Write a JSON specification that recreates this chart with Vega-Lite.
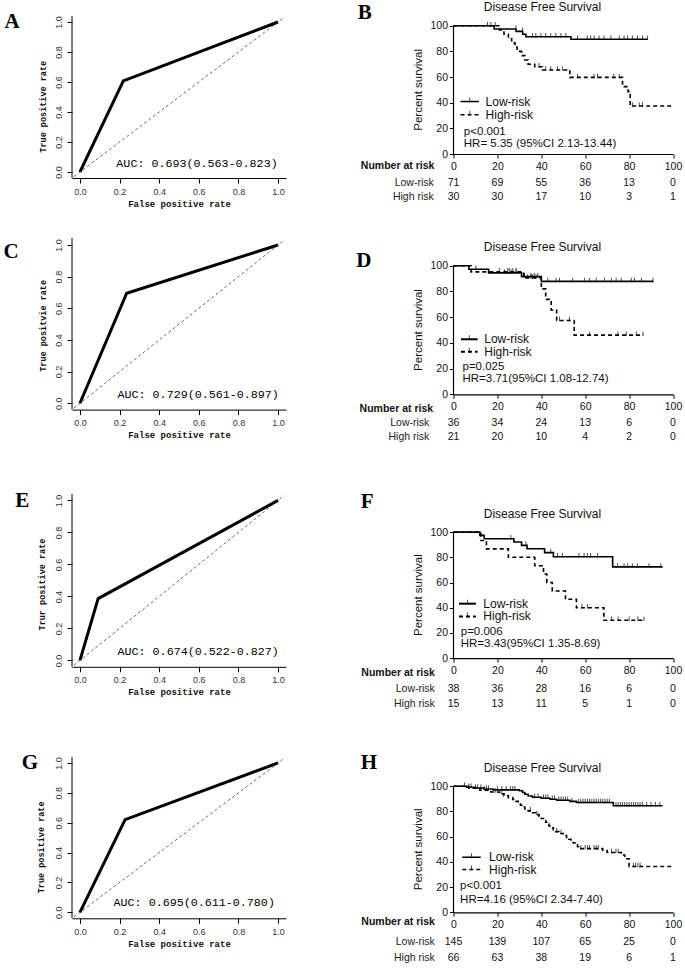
{
"$schema": "https://vega.github.io/schema/vega-lite/v6.json",
"background": "white",
"padding": {"left": 3, "top": 1, "right": 2, "bottom": 2},
"config": {"view": {"stroke": null}, "axis": {"grid": false, "labelOverlap": false}, "font": "Liberation Sans"},
"datasets": {
"roc": [
{"p":"A","fpr":0,"tpr":0},{"p":"A","fpr":0.219,"tpr":0.607},{"p":"A","fpr":1,"tpr":1},
{"p":"C","fpr":0,"tpr":0},{"p":"C","fpr":0.236,"tpr":0.695},{"p":"C","fpr":1,"tpr":1},
{"p":"E","fpr":0,"tpr":0},{"p":"E","fpr":0.092,"tpr":0.386},{"p":"E","fpr":1,"tpr":1},
{"p":"G","fpr":0,"tpr":0},{"p":"G","fpr":0.228,"tpr":0.62},{"p":"G","fpr":1,"tpr":1}
],
"km": [
{"p":"B","g":"Low-risk","t":0,"s":100},{"p":"B","g":"Low-risk","t":18.5,"s":97.4},{"p":"B","g":"Low-risk","t":28.5,"s":95.6},{"p":"B","g":"Low-risk","t":31.5,"s":93.3},{"p":"B","g":"Low-risk","t":33,"s":91.4},{"p":"B","g":"Low-risk","t":53.5,"s":89.4},{"p":"B","g":"Low-risk","t":88.4,"s":89.4},
{"p":"B","g":"High-risk","t":0,"s":100},{"p":"B","g":"High-risk","t":21,"s":96.7},{"p":"B","g":"High-risk","t":23,"s":93.3},{"p":"B","g":"High-risk","t":25,"s":90},{"p":"B","g":"High-risk","t":26.5,"s":86.7},{"p":"B","g":"High-risk","t":28,"s":83.3},{"p":"B","g":"High-risk","t":29,"s":80},{"p":"B","g":"High-risk","t":31,"s":76.7},{"p":"B","g":"High-risk","t":32.5,"s":73.3},{"p":"B","g":"High-risk","t":34,"s":70},{"p":"B","g":"High-risk","t":37,"s":68},{"p":"B","g":"High-risk","t":40.5,"s":65.5},{"p":"B","g":"High-risk","t":53,"s":59.7},{"p":"B","g":"High-risk","t":77,"s":52.5},{"p":"B","g":"High-risk","t":79.5,"s":48.6},{"p":"B","g":"High-risk","t":80.5,"s":37.4},{"p":"B","g":"High-risk","t":100,"s":37.4},
{"p":"D","g":"Low-risk","t":0,"s":100},{"p":"D","g":"Low-risk","t":7,"s":97.2},{"p":"D","g":"Low-risk","t":16,"s":94.4},{"p":"D","g":"Low-risk","t":31,"s":91.5},{"p":"D","g":"Low-risk","t":40,"s":87.8},{"p":"D","g":"Low-risk","t":91,"s":87.8},
{"p":"D","g":"High-risk","t":0,"s":100},{"p":"D","g":"High-risk","t":8,"s":95.2},{"p":"D","g":"High-risk","t":32,"s":90.5},{"p":"D","g":"High-risk","t":40,"s":82},{"p":"D","g":"High-risk","t":42,"s":73.8},{"p":"D","g":"High-risk","t":44.5,"s":65.6},{"p":"D","g":"High-risk","t":47,"s":57.4},{"p":"D","g":"High-risk","t":55,"s":46},{"p":"D","g":"High-risk","t":86.5,"s":46},
{"p":"F","g":"Low-risk","t":0,"s":100},{"p":"F","g":"Low-risk","t":12,"s":97.4},{"p":"F","g":"Low-risk","t":14,"s":94.7},{"p":"F","g":"Low-risk","t":27.5,"s":92.1},{"p":"F","g":"Low-risk","t":31,"s":89.5},{"p":"F","g":"Low-risk","t":33.5,"s":86.8},{"p":"F","g":"Low-risk","t":41.5,"s":83.7},{"p":"F","g":"Low-risk","t":45.5,"s":80.4},{"p":"F","g":"Low-risk","t":72.5,"s":72.4},{"p":"F","g":"Low-risk","t":95.3,"s":72.4},
{"p":"F","g":"High-risk","t":0,"s":100},{"p":"F","g":"High-risk","t":12.5,"s":93.3},{"p":"F","g":"High-risk","t":15,"s":86.7},{"p":"F","g":"High-risk","t":25,"s":80},{"p":"F","g":"High-risk","t":37,"s":73.3},{"p":"F","g":"High-risk","t":41,"s":66.7},{"p":"F","g":"High-risk","t":42.5,"s":60},{"p":"F","g":"High-risk","t":45,"s":53.3},{"p":"F","g":"High-risk","t":51,"s":46.7},{"p":"F","g":"High-risk","t":56,"s":40},{"p":"F","g":"High-risk","t":68.5,"s":30},{"p":"F","g":"High-risk","t":86.8,"s":30},
{"p":"H","g":"Low-risk","t":0,"s":100},{"p":"H","g":"Low-risk","t":6,"s":99.3},{"p":"H","g":"Low-risk","t":10,"s":98.6},{"p":"H","g":"Low-risk","t":14,"s":97.9},{"p":"H","g":"Low-risk","t":18,"s":97.2},{"p":"H","g":"Low-risk","t":30,"s":96.5},{"p":"H","g":"Low-risk","t":31.5,"s":95.1},{"p":"H","g":"Low-risk","t":32.5,"s":93.7},{"p":"H","g":"Low-risk","t":34,"s":92.3},{"p":"H","g":"Low-risk","t":36,"s":91.3},{"p":"H","g":"Low-risk","t":40,"s":90.5},{"p":"H","g":"Low-risk","t":44,"s":89.7},{"p":"H","g":"Low-risk","t":47,"s":88.9},{"p":"H","g":"Low-risk","t":53,"s":88},{"p":"H","g":"Low-risk","t":56,"s":87.2},{"p":"H","g":"Low-risk","t":72.8,"s":84.6},{"p":"H","g":"Low-risk","t":95.2,"s":84.6},
{"p":"H","g":"High-risk","t":0,"s":100},{"p":"H","g":"High-risk","t":7,"s":98.5},{"p":"H","g":"High-risk","t":12,"s":97},{"p":"H","g":"High-risk","t":17,"s":95.5},{"p":"H","g":"High-risk","t":21,"s":94},{"p":"H","g":"High-risk","t":23,"s":92.5},{"p":"H","g":"High-risk","t":25,"s":91},{"p":"H","g":"High-risk","t":27,"s":89.5},{"p":"H","g":"High-risk","t":28.5,"s":88},{"p":"H","g":"High-risk","t":29.5,"s":86.5},{"p":"H","g":"High-risk","t":30.5,"s":85},{"p":"H","g":"High-risk","t":31.5,"s":83.5},{"p":"H","g":"High-risk","t":32.5,"s":82},{"p":"H","g":"High-risk","t":34,"s":80.5},{"p":"H","g":"High-risk","t":36,"s":79},{"p":"H","g":"High-risk","t":37.5,"s":77.5},{"p":"H","g":"High-risk","t":39,"s":76},{"p":"H","g":"High-risk","t":40,"s":74.5},{"p":"H","g":"High-risk","t":41,"s":73},{"p":"H","g":"High-risk","t":42,"s":71.5},{"p":"H","g":"High-risk","t":42.5,"s":70},{"p":"H","g":"High-risk","t":43.5,"s":68.5},{"p":"H","g":"High-risk","t":44.5,"s":67},{"p":"H","g":"High-risk","t":45.5,"s":65.5},{"p":"H","g":"High-risk","t":46.5,"s":64},{"p":"H","g":"High-risk","t":48,"s":62.5},{"p":"H","g":"High-risk","t":50,"s":61},{"p":"H","g":"High-risk","t":51.5,"s":59.5},{"p":"H","g":"High-risk","t":52.5,"s":58},{"p":"H","g":"High-risk","t":53.5,"s":56.5},{"p":"H","g":"High-risk","t":54.5,"s":55},{"p":"H","g":"High-risk","t":55.5,"s":53.5},{"p":"H","g":"High-risk","t":56.5,"s":52},{"p":"H","g":"High-risk","t":57,"s":50.5},{"p":"H","g":"High-risk","t":68,"s":49},{"p":"H","g":"High-risk","t":70,"s":47.5},{"p":"H","g":"High-risk","t":76.5,"s":45.5},{"p":"H","g":"High-risk","t":78,"s":42.5},{"p":"H","g":"High-risk","t":80,"s":36.3},{"p":"H","g":"High-risk","t":100,"s":36.3}
],
"cens": [
{"p":"B","g":"Low-risk","t":15.5,"s":100},{"p":"B","g":"Low-risk","t":17,"s":100},{"p":"B","g":"Low-risk","t":28.4,"s":97.4},{"p":"B","g":"Low-risk","t":31.4,"s":95.6},{"p":"B","g":"Low-risk","t":36,"s":91.4},{"p":"B","g":"Low-risk","t":37.5,"s":91.4},{"p":"B","g":"Low-risk","t":39.8,"s":91.4},{"p":"B","g":"Low-risk","t":42,"s":91.4},{"p":"B","g":"Low-risk","t":44.3,"s":91.4},{"p":"B","g":"Low-risk","t":46.6,"s":91.4},{"p":"B","g":"Low-risk","t":48.9,"s":91.4},{"p":"B","g":"Low-risk","t":51.2,"s":91.4},{"p":"B","g":"Low-risk","t":56.5,"s":89.4},{"p":"B","g":"Low-risk","t":61,"s":89.4},{"p":"B","g":"Low-risk","t":62.5,"s":89.4},{"p":"B","g":"Low-risk","t":64.1,"s":89.4},{"p":"B","g":"Low-risk","t":66.3,"s":89.4},{"p":"B","g":"Low-risk","t":68.6,"s":89.4},{"p":"B","g":"Low-risk","t":71.7,"s":89.4},{"p":"B","g":"Low-risk","t":75.5,"s":89.4},{"p":"B","g":"Low-risk","t":77.7,"s":89.4},{"p":"B","g":"Low-risk","t":79.3,"s":89.4},{"p":"B","g":"Low-risk","t":81.5,"s":89.4},{"p":"B","g":"Low-risk","t":83.8,"s":89.4},{"p":"B","g":"Low-risk","t":86.1,"s":89.4},{"p":"B","g":"Low-risk","t":88.4,"s":89.4},
{"p":"B","g":"High-risk","t":19,"s":100},{"p":"B","g":"High-risk","t":39,"s":68},{"p":"B","g":"High-risk","t":42,"s":65.5},{"p":"B","g":"High-risk","t":44.3,"s":65.5},{"p":"B","g":"High-risk","t":47.4,"s":65.5},{"p":"B","g":"High-risk","t":49.6,"s":65.5},{"p":"B","g":"High-risk","t":56.5,"s":59.7},{"p":"B","g":"High-risk","t":64,"s":59.7},{"p":"B","g":"High-risk","t":65.6,"s":59.7},{"p":"B","g":"High-risk","t":73,"s":59.7},{"p":"B","g":"High-risk","t":75.5,"s":59.7},{"p":"B","g":"High-risk","t":81.5,"s":37.4},{"p":"B","g":"High-risk","t":84.6,"s":37.4},{"p":"B","g":"High-risk","t":86.1,"s":37.4},
{"p":"D","g":"Low-risk","t":10.2,"s":97.2},{"p":"D","g":"Low-risk","t":23.2,"s":94.4},{"p":"D","g":"Low-risk","t":26.2,"s":94.4},{"p":"D","g":"Low-risk","t":28.5,"s":94.4},{"p":"D","g":"Low-risk","t":32.3,"s":91.5},{"p":"D","g":"Low-risk","t":35.3,"s":91.5},{"p":"D","g":"Low-risk","t":36.8,"s":91.5},{"p":"D","g":"Low-risk","t":38.4,"s":91.5},{"p":"D","g":"Low-risk","t":42.9,"s":87.8},{"p":"D","g":"Low-risk","t":46.7,"s":87.8},{"p":"D","g":"Low-risk","t":48.3,"s":87.8},{"p":"D","g":"Low-risk","t":54.3,"s":87.8},{"p":"D","g":"Low-risk","t":59.7,"s":87.8},{"p":"D","g":"Low-risk","t":62,"s":87.8},{"p":"D","g":"Low-risk","t":65,"s":87.8},{"p":"D","g":"Low-risk","t":68.8,"s":87.8},{"p":"D","g":"Low-risk","t":71.9,"s":87.8},{"p":"D","g":"Low-risk","t":74.1,"s":87.8},{"p":"D","g":"Low-risk","t":76.4,"s":87.8},{"p":"D","g":"Low-risk","t":81,"s":87.8},{"p":"D","g":"Low-risk","t":82.5,"s":87.8},{"p":"D","g":"Low-risk","t":85.6,"s":87.8},{"p":"D","g":"Low-risk","t":90.9,"s":87.8},
{"p":"D","g":"High-risk","t":20.9,"s":95.2},{"p":"D","g":"High-risk","t":24.7,"s":95.2},{"p":"D","g":"High-risk","t":25.4,"s":95.2},{"p":"D","g":"High-risk","t":27,"s":95.2},{"p":"D","g":"High-risk","t":28.5,"s":95.2},{"p":"D","g":"High-risk","t":33.8,"s":90.5},{"p":"D","g":"High-risk","t":35.3,"s":90.5},{"p":"D","g":"High-risk","t":36,"s":90.5},{"p":"D","g":"High-risk","t":37.6,"s":90.5},{"p":"D","g":"High-risk","t":48.3,"s":57.4},{"p":"D","g":"High-risk","t":52.8,"s":57.4},{"p":"D","g":"High-risk","t":62,"s":46},{"p":"D","g":"High-risk","t":74.9,"s":46},{"p":"D","g":"High-risk","t":78.7,"s":46},{"p":"D","g":"High-risk","t":83.3,"s":46},{"p":"D","g":"High-risk","t":86.3,"s":46},
{"p":"F","g":"Low-risk","t":26.1,"s":94.7},{"p":"F","g":"Low-risk","t":33,"s":89.5},{"p":"F","g":"Low-risk","t":44.3,"s":83.7},{"p":"F","g":"Low-risk","t":47.4,"s":80.4},{"p":"F","g":"Low-risk","t":49.6,"s":80.4},{"p":"F","g":"Low-risk","t":57.2,"s":80.4},{"p":"F","g":"Low-risk","t":59.5,"s":80.4},{"p":"F","g":"Low-risk","t":61,"s":80.4},{"p":"F","g":"Low-risk","t":62.5,"s":80.4},{"p":"F","g":"Low-risk","t":65.6,"s":80.4},{"p":"F","g":"Low-risk","t":74.7,"s":72.4},{"p":"F","g":"Low-risk","t":77.7,"s":72.4},{"p":"F","g":"Low-risk","t":79.3,"s":72.4},{"p":"F","g":"Low-risk","t":81.5,"s":72.4},{"p":"F","g":"Low-risk","t":83.8,"s":72.4},{"p":"F","g":"Low-risk","t":89.1,"s":72.4},{"p":"F","g":"Low-risk","t":94.4,"s":72.4},
{"p":"F","g":"High-risk","t":58.5,"s":40},{"p":"F","g":"High-risk","t":61,"s":40},{"p":"F","g":"High-risk","t":72,"s":30},{"p":"F","g":"High-risk","t":75,"s":30},{"p":"F","g":"High-risk","t":80,"s":30},{"p":"F","g":"High-risk","t":84,"s":30},{"p":"F","g":"High-risk","t":86.8,"s":30},
{"p":"H","g":"Low-risk","t":7,"s":99.3},{"p":"H","g":"Low-risk","t":8,"s":99.3},{"p":"H","g":"Low-risk","t":11,"s":98.6},{"p":"H","g":"Low-risk","t":12.5,"s":98.6},{"p":"H","g":"Low-risk","t":15,"s":97.9},{"p":"H","g":"Low-risk","t":16,"s":97.9},{"p":"H","g":"Low-risk","t":20,"s":97.2},{"p":"H","g":"Low-risk","t":22,"s":97.2},{"p":"H","g":"Low-risk","t":24,"s":97.2},{"p":"H","g":"Low-risk","t":26,"s":97.2},{"p":"H","g":"Low-risk","t":27,"s":97.2},{"p":"H","g":"Low-risk","t":28,"s":97.2},{"p":"H","g":"Low-risk","t":37,"s":91.3},{"p":"H","g":"Low-risk","t":38.5,"s":91.3},{"p":"H","g":"Low-risk","t":41,"s":90.5},{"p":"H","g":"Low-risk","t":42,"s":90.5},{"p":"H","g":"Low-risk","t":43,"s":90.5},{"p":"H","g":"Low-risk","t":45,"s":89.7},{"p":"H","g":"Low-risk","t":46,"s":89.7},{"p":"H","g":"Low-risk","t":48,"s":88.9},{"p":"H","g":"Low-risk","t":49,"s":88.9},{"p":"H","g":"Low-risk","t":50,"s":88.9},{"p":"H","g":"Low-risk","t":51,"s":88.9},{"p":"H","g":"Low-risk","t":52,"s":88.9},{"p":"H","g":"Low-risk","t":54,"s":88},{"p":"H","g":"Low-risk","t":57,"s":87.2},{"p":"H","g":"Low-risk","t":58,"s":87.2},{"p":"H","g":"Low-risk","t":59,"s":87.2},{"p":"H","g":"Low-risk","t":60,"s":87.2},{"p":"H","g":"Low-risk","t":61,"s":87.2},{"p":"H","g":"Low-risk","t":62,"s":87.2},{"p":"H","g":"Low-risk","t":63,"s":87.2},{"p":"H","g":"Low-risk","t":64,"s":87.2},{"p":"H","g":"Low-risk","t":65,"s":87.2},{"p":"H","g":"Low-risk","t":66,"s":87.2},{"p":"H","g":"Low-risk","t":67,"s":87.2},{"p":"H","g":"Low-risk","t":68,"s":87.2},{"p":"H","g":"Low-risk","t":69,"s":87.2},{"p":"H","g":"Low-risk","t":70,"s":87.2},{"p":"H","g":"Low-risk","t":71,"s":87.2},{"p":"H","g":"Low-risk","t":74,"s":84.6},{"p":"H","g":"Low-risk","t":75,"s":84.6},{"p":"H","g":"Low-risk","t":76,"s":84.6},{"p":"H","g":"Low-risk","t":77,"s":84.6},{"p":"H","g":"Low-risk","t":78,"s":84.6},{"p":"H","g":"Low-risk","t":79,"s":84.6},{"p":"H","g":"Low-risk","t":80,"s":84.6},{"p":"H","g":"Low-risk","t":81,"s":84.6},{"p":"H","g":"Low-risk","t":82,"s":84.6},{"p":"H","g":"Low-risk","t":83,"s":84.6},{"p":"H","g":"Low-risk","t":84,"s":84.6},{"p":"H","g":"Low-risk","t":85,"s":84.6},{"p":"H","g":"Low-risk","t":86,"s":84.6},{"p":"H","g":"Low-risk","t":88,"s":84.6},{"p":"H","g":"Low-risk","t":90,"s":84.6},{"p":"H","g":"Low-risk","t":92,"s":84.6},{"p":"H","g":"Low-risk","t":94,"s":84.6},
{"p":"H","g":"High-risk","t":5,"s":100},{"p":"H","g":"High-risk","t":10,"s":98.5},{"p":"H","g":"High-risk","t":14,"s":97},{"p":"H","g":"High-risk","t":19,"s":95.5},{"p":"H","g":"High-risk","t":22,"s":94},{"p":"H","g":"High-risk","t":35,"s":80.5},{"p":"H","g":"High-risk","t":38,"s":77.5},{"p":"H","g":"High-risk","t":47,"s":64},{"p":"H","g":"High-risk","t":49,"s":62.5},{"p":"H","g":"High-risk","t":58,"s":50.5},{"p":"H","g":"High-risk","t":60,"s":50.5},{"p":"H","g":"High-risk","t":61,"s":50.5},{"p":"H","g":"High-risk","t":62,"s":50.5},{"p":"H","g":"High-risk","t":64,"s":50.5},{"p":"H","g":"High-risk","t":65,"s":50.5},{"p":"H","g":"High-risk","t":66,"s":50.5},{"p":"H","g":"High-risk","t":72,"s":47.5},{"p":"H","g":"High-risk","t":74,"s":47.5},{"p":"H","g":"High-risk","t":75,"s":47.5},{"p":"H","g":"High-risk","t":82,"s":36.3},{"p":"H","g":"High-risk","t":83,"s":36.3},{"p":"H","g":"High-risk","t":84,"s":36.3},{"p":"H","g":"High-risk","t":85,"s":36.3}
],
"risk": [
{"p":"B","g":"Low-risk","t":0,"n":71},{"p":"B","g":"Low-risk","t":20,"n":69},{"p":"B","g":"Low-risk","t":40,"n":55},{"p":"B","g":"Low-risk","t":60,"n":36},{"p":"B","g":"Low-risk","t":80,"n":13},{"p":"B","g":"Low-risk","t":100,"n":0},
{"p":"B","g":"High-risk","t":0,"n":30},{"p":"B","g":"High-risk","t":20,"n":30},{"p":"B","g":"High-risk","t":40,"n":17},{"p":"B","g":"High-risk","t":60,"n":10},{"p":"B","g":"High-risk","t":80,"n":3},{"p":"B","g":"High-risk","t":100,"n":1},
{"p":"D","g":"Low-risk","t":0,"n":36},{"p":"D","g":"Low-risk","t":20,"n":34},{"p":"D","g":"Low-risk","t":40,"n":24},{"p":"D","g":"Low-risk","t":60,"n":13},{"p":"D","g":"Low-risk","t":80,"n":6},{"p":"D","g":"Low-risk","t":100,"n":0},
{"p":"D","g":"High-risk","t":0,"n":21},{"p":"D","g":"High-risk","t":20,"n":20},{"p":"D","g":"High-risk","t":40,"n":10},{"p":"D","g":"High-risk","t":60,"n":4},{"p":"D","g":"High-risk","t":80,"n":2},{"p":"D","g":"High-risk","t":100,"n":0},
{"p":"F","g":"Low-risk","t":0,"n":38},{"p":"F","g":"Low-risk","t":20,"n":36},{"p":"F","g":"Low-risk","t":40,"n":28},{"p":"F","g":"Low-risk","t":60,"n":16},{"p":"F","g":"Low-risk","t":80,"n":6},{"p":"F","g":"Low-risk","t":100,"n":0},
{"p":"F","g":"High-risk","t":0,"n":15},{"p":"F","g":"High-risk","t":20,"n":13},{"p":"F","g":"High-risk","t":40,"n":11},{"p":"F","g":"High-risk","t":60,"n":5},{"p":"F","g":"High-risk","t":80,"n":1},{"p":"F","g":"High-risk","t":100,"n":0},
{"p":"H","g":"Low-risk","t":0,"n":145},{"p":"H","g":"Low-risk","t":20,"n":139},{"p":"H","g":"Low-risk","t":40,"n":107},{"p":"H","g":"Low-risk","t":60,"n":65},{"p":"H","g":"Low-risk","t":80,"n":25},{"p":"H","g":"Low-risk","t":100,"n":0},
{"p":"H","g":"High-risk","t":0,"n":66},{"p":"H","g":"High-risk","t":20,"n":63},{"p":"H","g":"High-risk","t":40,"n":38},{"p":"H","g":"High-risk","t":60,"n":19},{"p":"H","g":"High-risk","t":80,"n":6},{"p":"H","g":"High-risk","t":100,"n":1}
]
},
"columns": 2,
"spacing": {"row": 60, "column": 167.5},
"bounds": "flush",
"align": "each",
"concat": [
{"width": 214, "height": 162, "layer": [
 {"data": {"name": "roc"}, "transform": [{"filter": "datum.p === 'A'"}], "mark": {"type": "line", "color": "#000", "strokeWidth": 3},
  "encoding": {"x": {"field": "fpr", "type": "quantitative", "scale": {"domain": [-0.04, 1.04], "nice": false, "zero": false}, "axis": {"values": [0, 0.2, 0.4, 0.6, 0.8, 1], "tickCount": 20, "format": ".1f", "title": "False positive rate", "titleFont": "Liberation Mono", "titleFontWeight": "bold", "titleFontSize": 9, "titleColor": "#111", "titlePadding": 3, "labelFont": "Liberation Sans", "labelFontSize": 9, "labelColor": "#333", "labelPadding": 4, "tickSize": 5, "labelFlush": false, "labelOverlap": false, "domainColor": "#000", "tickColor": "#000"}},
   "y": {"field": "tpr", "type": "quantitative", "scale": {"domain": [-0.04, 1.04], "nice": false, "zero": false}, "axis": {"values": [0, 0.2, 0.4, 0.6, 0.8, 1], "tickCount": 20, "format": ".1f", "domain": false, "title": null, "labelAngle": -90, "labelAlign": "center", "labelBaseline": "bottom", "labelFont": "Liberation Sans", "labelFontSize": 9, "labelColor": "#333", "labelPadding": 4, "tickSize": 5, "tickColor": "#000", "labelOverlap": false, "labelFlush": false}}}},
 {"data": {"values": [{}]}, "mark": {"type": "rule", "color": "#444", "strokeWidth": 0.8, "strokeDash": [3, 2.5]}, "encoding": {"x": {"datum": -0.03}, "y": {"datum": -0.03}, "x2": {"datum": 1.03}, "y2": {"datum": 1.03}}},
 {"data": {"values": [{}]}, "mark": {"type": "rule", "color": "#000", "strokeWidth": 1}, "encoding": {"x": {"datum": -0.04}, "y": {"datum": -0.04}, "y2": {"datum": 1.04}}},
 {"data": {"values": [{}]}, "mark": {"type": "text", "text": "AUC: 0.693(0.563-0.823)", "font": "Liberation Mono", "fontSize": 11.7, "align": "right", "baseline": "middle", "color": "#000"}, "encoding": {"x": {"datum": 0.998}, "y": {"datum": 0.06}}},
 {"data": {"values": [{}]}, "mark": {"type": "text", "text": "True positive rate", "font": "Liberation Mono", "fontWeight": "bold", "fontSize": 8.5, "angle": 270, "align": "center", "baseline": "middle", "color": "#111"}, "encoding": {"x": {"datum": -0.184}, "y": {"datum": 0.435}}},
 {"data": {"values": [{}]}, "mark": {"type": "text", "text": "A", "font": "Liberation Serif", "fontWeight": "bold", "fontSize": 21, "align": "left", "baseline": "alphabetic", "color": "#000"}, "encoding": {"x": {"datum": -0.381}, "y": {"datum": 0.96}}}
]},
{"width": 219.5, "height": 138, "layer": [
 {"data": {"name": "km"}, "transform": [{"filter": "datum.p === 'B'"}], "mark": {"type": "line", "interpolate": "step-after", "color": "#000", "strokeWidth": 1.6},
  "encoding": {"x": {"field": "t", "type": "quantitative", "scale": {"domain": [0, 100], "nice": false, "zero": false}, "axis": {"values": [0, 20, 40, 60, 80, 100], "tickCount": 20, "title": null, "tickSize": 4, "labelPadding": 3, "labelFontSize": 10.5, "labelFont": "Liberation Sans", "labelColor": "#111", "labelFlush": false, "labelOverlap": false, "domainColor": "#000", "tickColor": "#000", "domainWidth": 1.2}},
   "y": {"field": "s", "type": "quantitative", "scale": {"domain": [0, 107.56], "nice": false, "zero": false}, "axis": {"values": [0, 20, 40, 60, 80, 100], "tickCount": 20, "domain": false, "title": null, "tickSize": 4, "labelPadding": 2, "labelFontSize": 10.5, "labelFont": "Liberation Sans", "labelColor": "#111", "tickColor": "#000", "labelOverlap": false, "labelFlush": false}},
   "detail": {"field": "g"},
   "strokeDash": {"field": "g", "type": "nominal", "scale": {"domain": ["Low-risk", "High-risk"], "range": [[1, 0], [4, 3]]}, "legend": null}}},
 {"data": {"name": "cens"}, "transform": [{"filter": "datum.p === 'B'"}], "mark": {"type": "tick", "orient": "vertical", "size": 4.5, "thickness": 1, "color": "#000", "yOffset": -1.5}, "encoding": {"x": {"field": "t", "type": "quantitative"}, "y": {"field": "s", "type": "quantitative"}}},
 {"data": {"values": [{}]}, "mark": {"type": "rule", "color": "#000", "strokeWidth": 1.2}, "encoding": {"x": {"datum": 0}, "y": {"datum": 0}, "y2": {"datum": 100}}},
 {"data": {"values": [{}]}, "mark": {"type": "text", "text": "Percent survival", "fontSize": 11.5, "angle": 270, "align": "center", "baseline": "middle", "color": "#111"}, "encoding": {"x": {"datum": -15.6}, "y": {"datum": 50}}},
 {"data": {"values": [{}]}, "mark": {"type": "text", "text": "Disease Free Survival", "fontSize": 12, "align": "center", "baseline": "middle", "color": "#111"}, "encoding": {"x": {"datum": 40.5}, "y": {"datum": 114.4}}},
 {"data": {"values": [{}]}, "mark": {"type": "text", "text": "B", "font": "Liberation Serif", "fontWeight": "bold", "fontSize": 21, "align": "left", "baseline": "alphabetic", "color": "#000"}, "encoding": {"x": {"datum": -43.6}, "y": {"datum": 105.2}}},
 {"data": {"values": [{}]}, "mark": {"type": "rule", "color": "#000", "strokeWidth": 1.5}, "encoding": {"x": {"datum": 3.2}, "x2": {"datum": 11.6}, "y": {"datum": 40.9}}},
 {"data": {"values": [{}]}, "mark": {"type": "rule", "color": "#000", "strokeWidth": 1.5, "strokeDash": [4, 3]}, "encoding": {"x": {"datum": 3.2}, "x2": {"datum": 11.6}, "y": {"datum": 30.5}}},
 {"data": {"values": [{}]}, "mark": {"type": "tick", "orient": "vertical", "size": 5, "thickness": 1, "color": "#000", "yOffset": -1.5}, "encoding": {"x": {"datum": 7.4}, "y": {"datum": 40.9}}},
 {"data": {"values": [{}]}, "mark": {"type": "tick", "orient": "vertical", "size": 5, "thickness": 1, "color": "#000", "yOffset": -1.5}, "encoding": {"x": {"datum": 7.4}, "y": {"datum": 30.5}}},
 {"data": {"values": [{}]}, "mark": {"type": "text", "text": "Low-risk", "fontSize": 12, "align": "left", "baseline": "middle", "color": "#111"}, "encoding": {"x": {"datum": 14.6}, "y": {"datum": 40.9}}},
 {"data": {"values": [{}]}, "mark": {"type": "text", "text": "High-risk", "fontSize": 12, "align": "left", "baseline": "middle", "color": "#111"}, "encoding": {"x": {"datum": 14.6}, "y": {"datum": 30.5}}},
 {"data": {"values": [{}]}, "mark": {"type": "text", "text": "p<0.001", "fontSize": 11.5, "align": "left", "baseline": "middle", "color": "#111"}, "encoding": {"x": {"datum": 4.7}, "y": {"datum": 17.4}}},
 {"data": {"values": [{}]}, "mark": {"type": "text", "text": "HR= 5.35 (95%CI 2.13-13.44)", "fontSize": 11.5, "align": "left", "baseline": "middle", "color": "#111"}, "encoding": {"x": {"datum": 4.7}, "y": {"datum": 7.6}}},
 {"data": {"values": [{}]}, "mark": {"type": "text", "text": "Number at risk", "fontSize": 10.5, "fontWeight": "bold", "align": "right", "baseline": "middle", "color": "#111"}, "encoding": {"x": {"datum": -8.7}, "y": {"datum": -9.4}}},
 {"data": {"values": [{}]}, "mark": {"type": "text", "text": "Low-risk", "fontSize": 10.5, "align": "right", "baseline": "middle", "color": "#222"}, "encoding": {"x": {"datum": -9}, "y": {"datum": -22.7}}},
 {"data": {"values": [{}]}, "mark": {"type": "text", "text": "High risk", "fontSize": 10.5, "align": "right", "baseline": "middle", "color": "#222"}, "encoding": {"x": {"datum": -9}, "y": {"datum": -33.8}}},
 {"data": {"name": "risk"}, "transform": [{"filter": "datum.p === 'B' && datum.g === 'Low-risk'"}], "mark": {"type": "text", "fontSize": 10.5, "align": "center", "baseline": "middle", "color": "#111"}, "encoding": {"x": {"field": "t", "type": "quantitative"}, "y": {"datum": -22.7}, "text": {"field": "n"}}},
 {"data": {"name": "risk"}, "transform": [{"filter": "datum.p === 'B' && datum.g === 'High-risk'"}], "mark": {"type": "text", "fontSize": 10.5, "align": "center", "baseline": "middle", "color": "#111"}, "encoding": {"x": {"field": "t", "type": "quantitative"}, "y": {"datum": -33.8}, "text": {"field": "n"}}}
]},
{"width": 214, "height": 171.6, "layer": [
 {"data": {"name": "roc"}, "transform": [{"filter": "datum.p === 'C'"}], "mark": {"type": "line", "color": "#000", "strokeWidth": 3},
  "encoding": {"x": {"field": "fpr", "type": "quantitative", "scale": {"domain": [-0.04, 1.04], "nice": false, "zero": false}, "axis": {"values": [0, 0.2, 0.4, 0.6, 0.8, 1], "tickCount": 20, "format": ".1f", "title": "False positive rate", "titleFont": "Liberation Mono", "titleFontWeight": "bold", "titleFontSize": 9, "titleColor": "#111", "titlePadding": 3, "labelFont": "Liberation Sans", "labelFontSize": 9, "labelColor": "#333", "labelPadding": 4, "tickSize": 5, "labelFlush": false, "labelOverlap": false, "domainColor": "#000", "tickColor": "#000"}},
   "y": {"field": "tpr", "type": "quantitative", "scale": {"domain": [-0.04, 1.044], "nice": false, "zero": false}, "axis": {"values": [0, 0.2, 0.4, 0.6, 0.8, 1], "tickCount": 20, "format": ".1f", "domain": false, "title": null, "labelAngle": -90, "labelAlign": "center", "labelBaseline": "bottom", "labelFont": "Liberation Sans", "labelFontSize": 9, "labelColor": "#333", "labelPadding": 4, "tickSize": 5, "tickColor": "#000", "labelOverlap": false, "labelFlush": false}}}},
 {"data": {"values": [{}]}, "mark": {"type": "rule", "color": "#444", "strokeWidth": 0.8, "strokeDash": [3, 2.5]}, "encoding": {"x": {"datum": -0.03}, "y": {"datum": -0.03}, "x2": {"datum": 1.03}, "y2": {"datum": 1.03}}},
 {"data": {"values": [{}]}, "mark": {"type": "rule", "color": "#000", "strokeWidth": 1}, "encoding": {"x": {"datum": -0.04}, "y": {"datum": -0.04}, "y2": {"datum": 1.044}}},
 {"data": {"values": [{}]}, "mark": {"type": "text", "text": "AUC: 0.729(0.561-0.897)", "font": "Liberation Mono", "fontSize": 11.7, "align": "right", "baseline": "middle", "color": "#000"}, "encoding": {"x": {"datum": 1.004}, "y": {"datum": 0.059}}},
 {"data": {"values": [{}]}, "mark": {"type": "text", "text": "True positvie rate", "font": "Liberation Mono", "fontWeight": "bold", "fontSize": 8.5, "angle": 270, "align": "center", "baseline": "middle", "color": "#111"}, "encoding": {"x": {"datum": -0.185}, "y": {"datum": 0.489}}},
 {"data": {"values": [{}]}, "mark": {"type": "text", "text": "C", "font": "Liberation Serif", "fontWeight": "bold", "fontSize": 21, "align": "left", "baseline": "alphabetic", "color": "#000"}, "encoding": {"x": {"datum": -0.386}, "y": {"datum": 0.918}}}
]},
{"width": 219.5, "height": 156.3, "layer": [
 {"data": {"name": "km"}, "transform": [{"filter": "datum.p === 'D'"}], "mark": {"type": "line", "interpolate": "step-after", "color": "#000", "strokeWidth": 1.6},
  "encoding": {"x": {"field": "t", "type": "quantitative", "scale": {"domain": [0, 100], "nice": false, "zero": false}, "axis": {"values": [0, 20, 40, 60, 80, 100], "tickCount": 20, "title": null, "tickSize": 4, "labelPadding": 3, "labelFontSize": 10.5, "labelFont": "Liberation Sans", "labelColor": "#111", "labelFlush": false, "labelOverlap": false, "domainColor": "#000", "tickColor": "#000", "domainWidth": 1.2}},
   "y": {"field": "s", "type": "quantitative", "scale": {"domain": [0, 121.54], "nice": false, "zero": false}, "axis": {"values": [0, 20, 40, 60, 80, 100], "tickCount": 20, "domain": false, "title": null, "tickSize": 4, "labelPadding": 2, "labelFontSize": 10.5, "labelFont": "Liberation Sans", "labelColor": "#111", "tickColor": "#000", "labelOverlap": false, "labelFlush": false}},
   "detail": {"field": "g"},
   "strokeDash": {"field": "g", "type": "nominal", "scale": {"domain": ["Low-risk", "High-risk"], "range": [[1, 0], [4, 3]]}, "legend": null}}},
 {"data": {"name": "cens"}, "transform": [{"filter": "datum.p === 'D'"}], "mark": {"type": "tick", "orient": "vertical", "size": 4.5, "thickness": 1, "color": "#000", "yOffset": -1.5}, "encoding": {"x": {"field": "t", "type": "quantitative"}, "y": {"field": "s", "type": "quantitative"}}},
 {"data": {"values": [{}]}, "mark": {"type": "rule", "color": "#000", "strokeWidth": 1.2}, "encoding": {"x": {"datum": 0}, "y": {"datum": 0}, "y2": {"datum": 100}}},
 {"data": {"values": [{}]}, "mark": {"type": "text", "text": "Percent survival", "fontSize": 11.5, "angle": 270, "align": "center", "baseline": "middle", "color": "#111"}, "encoding": {"x": {"datum": -15.6}, "y": {"datum": 50}}},
 {"data": {"values": [{}]}, "mark": {"type": "text", "text": "Disease Free Survival", "fontSize": 12, "align": "center", "baseline": "middle", "color": "#111"}, "encoding": {"x": {"datum": 40.5}, "y": {"datum": 114.4}}},
 {"data": {"values": [{}]}, "mark": {"type": "text", "text": "D", "font": "Liberation Serif", "fontWeight": "bold", "fontSize": 21, "align": "left", "baseline": "alphabetic", "color": "#000"}, "encoding": {"x": {"datum": -44.3}, "y": {"datum": 99}}},
 {"data": {"values": [{}]}, "mark": {"type": "rule", "color": "#000", "strokeWidth": 2}, "encoding": {"x": {"datum": 3.4}, "x2": {"datum": 11}, "y": {"datum": 42.8}}},
 {"data": {"values": [{}]}, "mark": {"type": "rule", "color": "#000", "strokeWidth": 2, "strokeDash": [4, 3]}, "encoding": {"x": {"datum": 3.4}, "x2": {"datum": 11}, "y": {"datum": 33.1}}},
 {"data": {"values": [{}]}, "mark": {"type": "tick", "orient": "vertical", "size": 5, "thickness": 1, "color": "#000", "yOffset": -1.5}, "encoding": {"x": {"datum": 7.2}, "y": {"datum": 42.8}}},
 {"data": {"values": [{}]}, "mark": {"type": "tick", "orient": "vertical", "size": 5, "thickness": 1, "color": "#000", "yOffset": -1.5}, "encoding": {"x": {"datum": 7.2}, "y": {"datum": 33.1}}},
 {"data": {"values": [{}]}, "mark": {"type": "text", "text": "Low-risk", "fontSize": 12, "align": "left", "baseline": "middle", "color": "#111"}, "encoding": {"x": {"datum": 14}, "y": {"datum": 42.8}}},
 {"data": {"values": [{}]}, "mark": {"type": "text", "text": "High-risk", "fontSize": 12, "align": "left", "baseline": "middle", "color": "#111"}, "encoding": {"x": {"datum": 14}, "y": {"datum": 33.1}}},
 {"data": {"values": [{}]}, "mark": {"type": "text", "text": "p=0.025", "fontSize": 11.5, "align": "left", "baseline": "middle", "color": "#111"}, "encoding": {"x": {"datum": 4.1}, "y": {"datum": 21.6}}},
 {"data": {"values": [{}]}, "mark": {"type": "text", "text": "HR=3.71(95%CI 1.08-12.74)", "fontSize": 11.5, "align": "left", "baseline": "middle", "color": "#111"}, "encoding": {"x": {"datum": 4.1}, "y": {"datum": 12.2}}},
 {"data": {"values": [{}]}, "mark": {"type": "text", "text": "Number at risk", "fontSize": 10.5, "fontWeight": "bold", "align": "right", "baseline": "middle", "color": "#111"}, "encoding": {"x": {"datum": -9.3}, "y": {"datum": -11.7}}},
 {"data": {"values": [{}]}, "mark": {"type": "text", "text": "Low-risk", "fontSize": 10.5, "align": "right", "baseline": "middle", "color": "#222"}, "encoding": {"x": {"datum": -11}, "y": {"datum": -22.3}}},
 {"data": {"values": [{}]}, "mark": {"type": "text", "text": "High risk", "fontSize": 10.5, "align": "right", "baseline": "middle", "color": "#222"}, "encoding": {"x": {"datum": -11}, "y": {"datum": -33.4}}},
 {"data": {"name": "risk"}, "transform": [{"filter": "datum.p === 'D' && datum.g === 'Low-risk'"}], "mark": {"type": "text", "fontSize": 10.5, "align": "center", "baseline": "middle", "color": "#111"}, "encoding": {"x": {"field": "t", "type": "quantitative"}, "y": {"datum": -22.3}, "text": {"field": "n"}}},
 {"data": {"name": "risk"}, "transform": [{"filter": "datum.p === 'D' && datum.g === 'High-risk'"}], "mark": {"type": "text", "fontSize": 10.5, "align": "center", "baseline": "middle", "color": "#111"}, "encoding": {"x": {"field": "t", "type": "quantitative"}, "y": {"datum": -33.4}, "text": {"field": "n"}}}
]},
{"width": 214, "height": 196.8, "layer": [
 {"data": {"name": "roc"}, "transform": [{"filter": "datum.p === 'E'"}], "mark": {"type": "line", "color": "#000", "strokeWidth": 3},
  "encoding": {"x": {"field": "fpr", "type": "quantitative", "scale": {"domain": [-0.04, 1.04], "nice": false, "zero": false}, "axis": {"values": [0, 0.2, 0.4, 0.6, 0.8, 1], "tickCount": 20, "format": ".1f", "title": "False positive rate", "titleFont": "Liberation Mono", "titleFontWeight": "bold", "titleFontSize": 9, "titleColor": "#111", "titlePadding": 3, "labelFont": "Liberation Sans", "labelFontSize": 9, "labelColor": "#333", "labelPadding": 4, "tickSize": 5, "labelFlush": false, "labelOverlap": false, "domainColor": "#000", "tickColor": "#000"}},
   "y": {"field": "tpr", "type": "quantitative", "scale": {"domain": [-0.04, 1.19], "nice": false, "zero": false}, "axis": {"values": [0, 0.2, 0.4, 0.6, 0.8, 1], "tickCount": 20, "format": ".1f", "domain": false, "title": null, "labelAngle": -90, "labelAlign": "center", "labelBaseline": "bottom", "labelFont": "Liberation Sans", "labelFontSize": 9, "labelColor": "#333", "labelPadding": 4, "tickSize": 5, "tickColor": "#000", "labelOverlap": false, "labelFlush": false}}}},
 {"data": {"values": [{}]}, "mark": {"type": "rule", "color": "#444", "strokeWidth": 0.8, "strokeDash": [3, 2.5]}, "encoding": {"x": {"datum": -0.03}, "y": {"datum": -0.03}, "x2": {"datum": 1.03}, "y2": {"datum": 1.03}}},
 {"data": {"values": [{}]}, "mark": {"type": "rule", "color": "#000", "strokeWidth": 1}, "encoding": {"x": {"datum": -0.04}, "y": {"datum": -0.04}, "y2": {"datum": 1.04}}},
 {"data": {"values": [{}]}, "mark": {"type": "text", "text": "AUC: 0.674(0.522-0.827)", "font": "Liberation Mono", "fontSize": 11.7, "align": "right", "baseline": "middle", "color": "#000"}, "encoding": {"x": {"datum": 1.004}, "y": {"datum": 0.058}}},
 {"data": {"values": [{}]}, "mark": {"type": "text", "text": "Trur positive rate", "font": "Liberation Mono", "fontWeight": "bold", "fontSize": 8.5, "angle": 270, "align": "center", "baseline": "middle", "color": "#111"}, "encoding": {"x": {"datum": -0.19}, "y": {"datum": 0.474}}},
 {"data": {"values": [{}]}, "mark": {"type": "text", "text": "E", "font": "Liberation Serif", "fontWeight": "bold", "fontSize": 21, "align": "left", "baseline": "alphabetic", "color": "#000"}, "encoding": {"x": {"datum": -0.327}, "y": {"datum": 0.956}}}
]},
{"width": 219.5, "height": 188.1, "layer": [
 {"data": {"name": "km"}, "transform": [{"filter": "datum.p === 'F'"}], "mark": {"type": "line", "interpolate": "step-after", "color": "#000", "strokeWidth": 1.6},
  "encoding": {"x": {"field": "t", "type": "quantitative", "scale": {"domain": [0, 100], "nice": false, "zero": false}, "axis": {"values": [0, 20, 40, 60, 80, 100], "tickCount": 20, "title": null, "tickSize": 4, "labelPadding": 3, "labelFontSize": 10.5, "labelFont": "Liberation Sans", "labelColor": "#111", "labelFlush": false, "labelOverlap": false, "domainColor": "#000", "tickColor": "#000", "domainWidth": 1.2}},
   "y": {"field": "s", "type": "quantitative", "scale": {"domain": [0, 149.29], "nice": false, "zero": false}, "axis": {"values": [0, 20, 40, 60, 80, 100], "tickCount": 20, "domain": false, "title": null, "tickSize": 4, "labelPadding": 2, "labelFontSize": 10.5, "labelFont": "Liberation Sans", "labelColor": "#111", "tickColor": "#000", "labelOverlap": false, "labelFlush": false}},
   "detail": {"field": "g"},
   "strokeDash": {"field": "g", "type": "nominal", "scale": {"domain": ["Low-risk", "High-risk"], "range": [[1, 0], [4, 3]]}, "legend": null}}},
 {"data": {"name": "cens"}, "transform": [{"filter": "datum.p === 'F'"}], "mark": {"type": "tick", "orient": "vertical", "size": 4.5, "thickness": 1, "color": "#000", "yOffset": -1.5}, "encoding": {"x": {"field": "t", "type": "quantitative"}, "y": {"field": "s", "type": "quantitative"}}},
 {"data": {"values": [{}]}, "mark": {"type": "rule", "color": "#000", "strokeWidth": 1.2}, "encoding": {"x": {"datum": 0}, "y": {"datum": 0}, "y2": {"datum": 100}}},
 {"data": {"values": [{}]}, "mark": {"type": "text", "text": "Percent survival", "fontSize": 11.5, "angle": 270, "align": "center", "baseline": "middle", "color": "#111"}, "encoding": {"x": {"datum": -15.6}, "y": {"datum": 50}}},
 {"data": {"values": [{}]}, "mark": {"type": "text", "text": "Disease Free Survival", "fontSize": 12, "align": "center", "baseline": "middle", "color": "#111"}, "encoding": {"x": {"datum": 40.5}, "y": {"datum": 114.7}}},
 {"data": {"values": [{}]}, "mark": {"type": "text", "text": "F", "font": "Liberation Serif", "fontWeight": "bold", "fontSize": 21, "align": "left", "baseline": "alphabetic", "color": "#000"}, "encoding": {"x": {"datum": -42.2}, "y": {"datum": 118.8}}},
 {"data": {"values": [{}]}, "mark": {"type": "rule", "color": "#000", "strokeWidth": 2}, "encoding": {"x": {"datum": 2.5}, "x2": {"datum": 10.2}, "y": {"datum": 43.2}}},
 {"data": {"values": [{}]}, "mark": {"type": "rule", "color": "#000", "strokeWidth": 2, "strokeDash": [4, 3]}, "encoding": {"x": {"datum": 2.5}, "x2": {"datum": 10.2}, "y": {"datum": 33.1}}},
 {"data": {"values": [{}]}, "mark": {"type": "tick", "orient": "vertical", "size": 5, "thickness": 1, "color": "#000", "yOffset": -1.5}, "encoding": {"x": {"datum": 6.4}, "y": {"datum": 43.2}}},
 {"data": {"values": [{}]}, "mark": {"type": "tick", "orient": "vertical", "size": 5, "thickness": 1, "color": "#000", "yOffset": -1.5}, "encoding": {"x": {"datum": 6.4}, "y": {"datum": 33.1}}},
 {"data": {"values": [{}]}, "mark": {"type": "text", "text": "Low-risk", "fontSize": 12, "align": "left", "baseline": "middle", "color": "#111"}, "encoding": {"x": {"datum": 13.6}, "y": {"datum": 43.2}}},
 {"data": {"values": [{}]}, "mark": {"type": "text", "text": "High-risk", "fontSize": 12, "align": "left", "baseline": "middle", "color": "#111"}, "encoding": {"x": {"datum": 13.6}, "y": {"datum": 33.1}}},
 {"data": {"values": [{}]}, "mark": {"type": "text", "text": "p=0.006", "fontSize": 11.5, "align": "left", "baseline": "middle", "color": "#111"}, "encoding": {"x": {"datum": 3.3}, "y": {"datum": 20.8}}},
 {"data": {"values": [{}]}, "mark": {"type": "text", "text": "HR=3.43(95%CI 1.35-8.69)", "fontSize": 11.5, "align": "left", "baseline": "middle", "color": "#111"}, "encoding": {"x": {"datum": 3.3}, "y": {"datum": 11.2}}},
 {"data": {"values": [{}]}, "mark": {"type": "text", "text": "Number at risk", "fontSize": 10.5, "fontWeight": "bold", "align": "right", "baseline": "middle", "color": "#111"}, "encoding": {"x": {"datum": -8.5}, "y": {"datum": -11.9}}},
 {"data": {"values": [{}]}, "mark": {"type": "text", "text": "Low-risk", "fontSize": 10.5, "align": "right", "baseline": "middle", "color": "#222"}, "encoding": {"x": {"datum": -8.5}, "y": {"datum": -24.8}}},
 {"data": {"values": [{}]}, "mark": {"type": "text", "text": "High risk", "fontSize": 10.5, "align": "right", "baseline": "middle", "color": "#222"}, "encoding": {"x": {"datum": -8.5}, "y": {"datum": -36.7}}},
 {"data": {"name": "risk"}, "transform": [{"filter": "datum.p === 'F' && datum.g === 'Low-risk'"}], "mark": {"type": "text", "fontSize": 10.5, "align": "center", "baseline": "middle", "color": "#111"}, "encoding": {"x": {"field": "t", "type": "quantitative"}, "y": {"datum": -24.8}, "text": {"field": "n"}}},
 {"data": {"name": "risk"}, "transform": [{"filter": "datum.p === 'F' && datum.g === 'High-risk'"}], "mark": {"type": "text", "fontSize": 10.5, "align": "center", "baseline": "middle", "color": "#111"}, "encoding": {"x": {"field": "t", "type": "quantitative"}, "y": {"datum": -36.7}, "text": {"field": "n"}}}
]},
{"width": 214, "height": 191.3, "layer": [
 {"data": {"name": "roc"}, "transform": [{"filter": "datum.p === 'G'"}], "mark": {"type": "line", "color": "#000", "strokeWidth": 3},
  "encoding": {"x": {"field": "fpr", "type": "quantitative", "scale": {"domain": [-0.04, 1.04], "nice": false, "zero": false}, "axis": {"values": [0, 0.2, 0.4, 0.6, 0.8, 1], "tickCount": 20, "format": ".1f", "title": "False positive rate", "titleFont": "Liberation Mono", "titleFontWeight": "bold", "titleFontSize": 9, "titleColor": "#111", "titlePadding": 3, "labelFont": "Liberation Sans", "labelFontSize": 9, "labelColor": "#333", "labelPadding": 4, "tickSize": 5, "labelFlush": false, "labelOverlap": false, "domainColor": "#000", "tickColor": "#000"}},
   "y": {"field": "tpr", "type": "quantitative", "scale": {"domain": [-0.04, 1.2405], "nice": false, "zero": false}, "axis": {"values": [0, 0.2, 0.4, 0.6, 0.8, 1], "tickCount": 20, "format": ".1f", "domain": false, "title": null, "labelAngle": -90, "labelAlign": "center", "labelBaseline": "bottom", "labelFont": "Liberation Sans", "labelFontSize": 9, "labelColor": "#333", "labelPadding": 4, "tickSize": 5, "tickColor": "#000", "labelOverlap": false, "labelFlush": false}}}},
 {"data": {"values": [{}]}, "mark": {"type": "rule", "color": "#444", "strokeWidth": 0.8, "strokeDash": [3, 2.5]}, "encoding": {"x": {"datum": -0.03}, "y": {"datum": -0.03}, "x2": {"datum": 1.03}, "y2": {"datum": 1.03}}},
 {"data": {"values": [{}]}, "mark": {"type": "rule", "color": "#000", "strokeWidth": 1}, "encoding": {"x": {"datum": -0.04}, "y": {"datum": -0.04}, "y2": {"datum": 1.04}}},
 {"data": {"values": [{}]}, "mark": {"type": "text", "text": "AUC: 0.695(0.611-0.780)", "font": "Liberation Mono", "fontSize": 11.7, "align": "right", "baseline": "middle", "color": "#000"}, "encoding": {"x": {"datum": 0.984}, "y": {"datum": 0.067}}},
 {"data": {"values": [{}]}, "mark": {"type": "text", "text": "True positive rate", "font": "Liberation Mono", "fontWeight": "bold", "fontSize": 8.5, "angle": 270, "align": "center", "baseline": "middle", "color": "#111"}, "encoding": {"x": {"datum": -0.196}, "y": {"datum": 0.435}}},
 {"data": {"values": [{}]}, "mark": {"type": "text", "text": "G", "font": "Liberation Serif", "fontWeight": "bold", "fontSize": 21, "align": "left", "baseline": "alphabetic", "color": "#000"}, "encoding": {"x": {"datum": -0.294}, "y": {"datum": 0.962}}}
]},
{"width": 219.5, "height": 185.3, "layer": [
 {"data": {"name": "km"}, "transform": [{"filter": "datum.p === 'H'"}], "mark": {"type": "line", "interpolate": "step-after", "color": "#000", "strokeWidth": 1.6},
  "encoding": {"x": {"field": "t", "type": "quantitative", "scale": {"domain": [0, 100], "nice": false, "zero": false}, "axis": {"values": [0, 20, 40, 60, 80, 100], "tickCount": 20, "title": null, "tickSize": 4, "labelPadding": 3, "labelFontSize": 10.5, "labelFont": "Liberation Sans", "labelColor": "#111", "labelFlush": false, "labelOverlap": false, "domainColor": "#000", "tickColor": "#000", "domainWidth": 1.2}},
   "y": {"field": "s", "type": "quantitative", "scale": {"domain": [0, 147.06], "nice": false, "zero": false}, "axis": {"values": [0, 20, 40, 60, 80, 100], "tickCount": 20, "domain": false, "title": null, "tickSize": 4, "labelPadding": 2, "labelFontSize": 10.5, "labelFont": "Liberation Sans", "labelColor": "#111", "tickColor": "#000", "labelOverlap": false, "labelFlush": false}},
   "detail": {"field": "g"},
   "strokeDash": {"field": "g", "type": "nominal", "scale": {"domain": ["Low-risk", "High-risk"], "range": [[1, 0], [4, 3]]}, "legend": null}}},
 {"data": {"name": "cens"}, "transform": [{"filter": "datum.p === 'H'"}], "mark": {"type": "tick", "orient": "vertical", "size": 4.5, "thickness": 1, "color": "#000", "yOffset": -1.5}, "encoding": {"x": {"field": "t", "type": "quantitative"}, "y": {"field": "s", "type": "quantitative"}}},
 {"data": {"values": [{}]}, "mark": {"type": "rule", "color": "#000", "strokeWidth": 1.2}, "encoding": {"x": {"datum": 0}, "y": {"datum": 0}, "y2": {"datum": 100}}},
 {"data": {"values": [{}]}, "mark": {"type": "text", "text": "Percent survival", "fontSize": 11.5, "angle": 270, "align": "center", "baseline": "middle", "color": "#111"}, "encoding": {"x": {"datum": -15.6}, "y": {"datum": 50}}},
 {"data": {"values": [{}]}, "mark": {"type": "text", "text": "Disease Free Survival", "fontSize": 12, "align": "center", "baseline": "middle", "color": "#111"}, "encoding": {"x": {"datum": 40.5}, "y": {"datum": 114.7}}},
 {"data": {"values": [{}]}, "mark": {"type": "text", "text": "H", "font": "Liberation Serif", "fontWeight": "bold", "fontSize": 21, "align": "left", "baseline": "alphabetic", "color": "#000"}, "encoding": {"x": {"datum": -42.2}, "y": {"datum": 114}}},
 {"data": {"values": [{}]}, "mark": {"type": "rule", "color": "#000", "strokeWidth": 1.5}, "encoding": {"x": {"datum": 4}, "x2": {"datum": 12.4}, "y": {"datum": 43.7}}},
 {"data": {"values": [{}]}, "mark": {"type": "rule", "color": "#000", "strokeWidth": 1.5, "strokeDash": [4, 3]}, "encoding": {"x": {"datum": 4}, "x2": {"datum": 12.4}, "y": {"datum": 33.9}}},
 {"data": {"values": [{}]}, "mark": {"type": "tick", "orient": "vertical", "size": 5, "thickness": 1, "color": "#000", "yOffset": -1.5}, "encoding": {"x": {"datum": 8.2}, "y": {"datum": 43.7}}},
 {"data": {"values": [{}]}, "mark": {"type": "tick", "orient": "vertical", "size": 5, "thickness": 1, "color": "#000", "yOffset": -1.5}, "encoding": {"x": {"datum": 8.2}, "y": {"datum": 33.9}}},
 {"data": {"values": [{}]}, "mark": {"type": "text", "text": "Low-risk", "fontSize": 12, "align": "left", "baseline": "middle", "color": "#111"}, "encoding": {"x": {"datum": 16.2}, "y": {"datum": 43.7}}},
 {"data": {"values": [{}]}, "mark": {"type": "text", "text": "High-risk", "fontSize": 12, "align": "left", "baseline": "middle", "color": "#111"}, "encoding": {"x": {"datum": 16.2}, "y": {"datum": 33.9}}},
 {"data": {"values": [{}]}, "mark": {"type": "text", "text": "p<0.001", "fontSize": 11.5, "align": "left", "baseline": "middle", "color": "#111"}, "encoding": {"x": {"datum": 3}, "y": {"datum": 20.6}}},
 {"data": {"values": [{}]}, "mark": {"type": "text", "text": "HR=4.16 (95%CI 2.34-7.40)", "fontSize": 11.5, "align": "left", "baseline": "middle", "color": "#111"}, "encoding": {"x": {"datum": 3}, "y": {"datum": 9.8}}},
 {"data": {"values": [{}]}, "mark": {"type": "text", "text": "Number at risk", "fontSize": 10.5, "fontWeight": "bold", "align": "right", "baseline": "middle", "color": "#111"}, "encoding": {"x": {"datum": -8.5}, "y": {"datum": -7.9}}},
 {"data": {"values": [{}]}, "mark": {"type": "text", "text": "Low-risk", "fontSize": 10.5, "align": "right", "baseline": "middle", "color": "#222"}, "encoding": {"x": {"datum": -8.5}, "y": {"datum": -23.8}}},
 {"data": {"values": [{}]}, "mark": {"type": "text", "text": "High risk", "fontSize": 10.5, "align": "right", "baseline": "middle", "color": "#222"}, "encoding": {"x": {"datum": -8.5}, "y": {"datum": -36.5}}},
 {"data": {"name": "risk"}, "transform": [{"filter": "datum.p === 'H' && datum.g === 'Low-risk'"}], "mark": {"type": "text", "fontSize": 10.5, "align": "center", "baseline": "middle", "color": "#111"}, "encoding": {"x": {"field": "t", "type": "quantitative"}, "y": {"datum": -23.8}, "text": {"field": "n"}}},
 {"data": {"name": "risk"}, "transform": [{"filter": "datum.p === 'H' && datum.g === 'High-risk'"}], "mark": {"type": "text", "fontSize": 10.5, "align": "center", "baseline": "middle", "color": "#111"}, "encoding": {"x": {"field": "t", "type": "quantitative"}, "y": {"datum": -36.5}, "text": {"field": "n"}}}
]}
]
}
